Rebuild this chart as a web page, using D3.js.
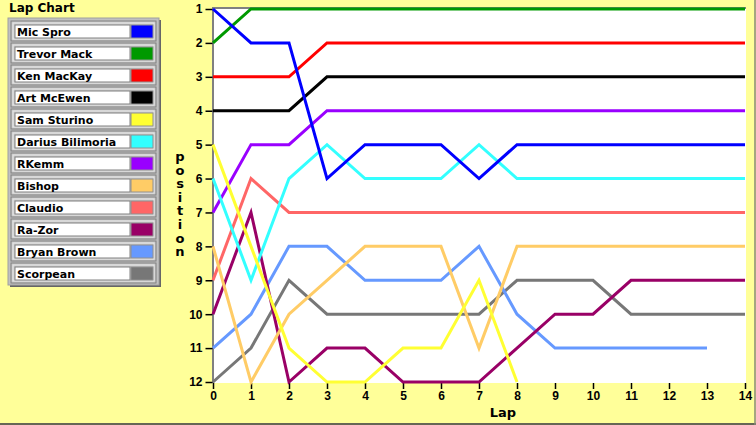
<!DOCTYPE html>
<html lang="en">
    <head>
        <meta charset="utf-8">
        <title>Lap Chart</title>
        <script type="text/javascript" src="https://d3js.org/d3.v7.min.js"></script>
        <style type="text/css">
            body {
                margin: 0;
                background: #ffff99;
            }
            svg {
                font-family: 'DejaVu Sans', sans-serif;
                display: block;
            }
            .tick text {
                font-size: 12px;
                font-weight: bold;
            }
        </style>
    </head>
    <body>
        <script type="text/javascript">

            // lap numbers (x) and position labels (y)
            const laps = [0, 1, 2, 3, 4, 5, 6, 7, 8, 9, 10, 11, 12, 13, 14];
            const positions = [1, 2, 3, 4, 5, 6, 7, 8, 9, 10, 11, 12];

            const drivers = ["Mic Spro", "Trevor Mack", "Ken MacKay", "Art McEwen", "Sam Sturino",
                             "Darius Bilimoria", "RKemm", "Bishop", "Claudio", "Ra-Zor",
                             "Bryan Brown", "Scorpean"];
            const colors = ["#0000ff", "#009900", "#ff0000", "#000000", "#ffff33",
                            "#33ffff", "#9900ff", "#ffcc66", "#ff6666", "#990066",
                            "#6699ff", "#777777"];

            // position of each driver after each lap
            const micSpro   = [1, 2, 2, 6, 5, 5, 5, 6, 5, 5, 5, 5, 5, 5, 5];
            const trevor    = [2, 1, 1, 1, 1, 1, 1, 1, 1, 1, 1, 1, 1, 1, 1];
            const kenMacKay = [3, 3, 3, 2, 2, 2, 2, 2, 2, 2, 2, 2, 2, 2, 2];
            const artMcEwen = [4, 4, 4, 3, 3, 3, 3, 3, 3, 3, 3, 3, 3, 3, 3];
            const samSturino = [5, 8, 11, 12, 12, 11, 11, 9, 12];
            const darius    = [6, 9, 6, 5, 6, 6, 6, 5, 6, 6, 6, 6, 6, 6, 6];
            const rkemm     = [7, 5, 5, 4, 4, 4, 4, 4, 4, 4, 4, 4, 4, 4, 4];
            const bishop    = [8, 12, 10, 9, 8, 8, 8, 11, 8, 8, 8, 8, 8, 8, 8];
            const claudio   = [9, 6, 7, 7, 7, 7, 7, 7, 7, 7, 7, 7, 7, 7, 7];
            const razor     = [10, 7, 12, 11, 11, 12, 12, 12, 11, 10, 10, 9, 9, 9, 9];
            const bryan     = [11, 10, 8, 8, 9, 9, 9, 8, 10, 11, 11, 11, 11, 11];
            const scorpean  = [12, 11, 9, 10, 10, 10, 10, 10, 9, 9, 9, 10, 10, 10, 10];

            const series = [micSpro, trevor, kenMacKay, artMcEwen, samSturino, darius,
                            rkemm, bishop, claudio, razor, bryan, scorpean];

            const W = 756, H = 425;

            const svg = d3.select("body")
                    .append("svg")
                    .attr("width", W)
                    .attr("height", H);

            svg.append("rect")
               .attr("width", W).attr("height", H)
               .attr("fill", "#ffff99");

            // outer border lines
            svg.append("line").attr("x1", 0).attr("x2", W).attr("y1", 424).attr("y2", 424)
               .attr("stroke", "#666655").attr("stroke-width", 2);
            svg.append("line").attr("x1", 755).attr("x2", 755).attr("y1", 0).attr("y2", H)
               .attr("stroke", "#888877").attr("stroke-width", 1.5);

            //scales
            const xScale = d3.scaleLinear().domain([0, 14]).range([213, 745]);
            const yScale = d3.scaleLinear().domain([1, 12]).range([9, 382]);

            // plot area
            svg.append("rect")
               .attr("x", xScale(0)).attr("y", 8)
               .attr("width", 746 - xScale(0)).attr("height", 383 - 8)
               .attr("fill", "#ffffff");
            svg.append("path")
               .attr("d", `M${xScale(0)},383V8H746`)
               .attr("fill", "none")
               .attr("stroke", "#808080")
               .attr("stroke-width", 2);

            //axes
            const yAxis = d3.axisLeft(yScale).tickValues(positions).tickSize(7).tickPadding(3);
            const xAxis = d3.axisBottom(xScale).tickValues(laps).tickSize(6).tickPadding(2);

            const gy = svg.append("g").attr("transform", `translate(${xScale(0) - 0.5},0)`).call(yAxis);
            gy.select(".domain").remove();
            gy.selectAll(".tick line").attr("stroke-width", 1.5);

            const gx = svg.append("g").attr("transform", "translate(0,383)").call(xAxis);
            gx.select(".domain").remove();
            gx.selectAll(".tick line").attr("stroke-width", 1.5);

            svg.append("text")
               .attr("x", 503).attr("y", 417)
               .attr("text-anchor", "middle")
               .style("font-size", "13px").style("font-weight", "bold")
               .text("Lap");

            const ylab = svg.append("text")
               .attr("text-anchor", "middle")
               .style("font-size", "13px").style("font-weight", "bold");
            "position".split("").forEach((ch, i) => {
                ylab.append("tspan").attr("x", 180).attr("y", 161 + i * 13.6).text(ch);
            });

            //lines, first driver drawn on top
            const line = d3.line()
                    .x((d, i) => xScale(laps[i]))
                    .y(d => yScale(d));

            svg.append("g")
               .selectAll("path")
               .data(series.map((s, i) => ({s: s, c: colors[i]})).reverse())
               .enter()
               .append("path")
               .attr("d", d => line(d.s))
               .attr("fill", "none")
               .attr("stroke", d => d.c)
               .attr("stroke-width", 3);

            // legend
            svg.append("text")
               .attr("x", 9).attr("y", 12)
               .style("font-size", "12px").style("font-weight", "bold")
               .text("Lap Chart");

            const leg = svg.append("g");
            leg.append("rect").attr("x", 10).attr("y", 20).attr("width", 151).attr("height", 267).attr("fill", "#666666");
            leg.append("rect").attr("x", 8).attr("y", 18).attr("width", 151).attr("height", 267).attr("fill", "#c0c0c0")
               .attr("stroke", "#a0a0a0");

            const rows = leg.selectAll("g.row")
                .data(drivers)
                .enter()
                .append("g")
                .attr("class", "row")
                .attr("transform", (d, i) => `translate(0,${20 + i * 22})`);

            rows.append("rect").attr("x", 11).attr("y", 1).attr("width", 145).attr("height", 20)
                .attr("fill", "#c8c8c8").attr("stroke", "#808080");
            rows.append("rect").attr("x", 13).attr("y", 3).attr("width", 141).attr("height", 16)
                .attr("fill", "none").attr("stroke", "#e8e8e8");
            rows.append("rect").attr("x", 15).attr("y", 5).attr("width", 115).attr("height", 13)
                .attr("fill", "#ffffff").attr("stroke", "#808080").attr("stroke-width", 1);
            rows.append("rect").attr("x", 131).attr("y", 5).attr("width", 22).attr("height", 13)
                .attr("fill", (d, i) => colors[i]).attr("stroke", "#909090");
            rows.append("text")
                .attr("x", 17).attr("y", 16)
                .style("font-size", "11px").style("font-weight", "bold")
                .text(d => d);

        </script>
    </body>
</html>
